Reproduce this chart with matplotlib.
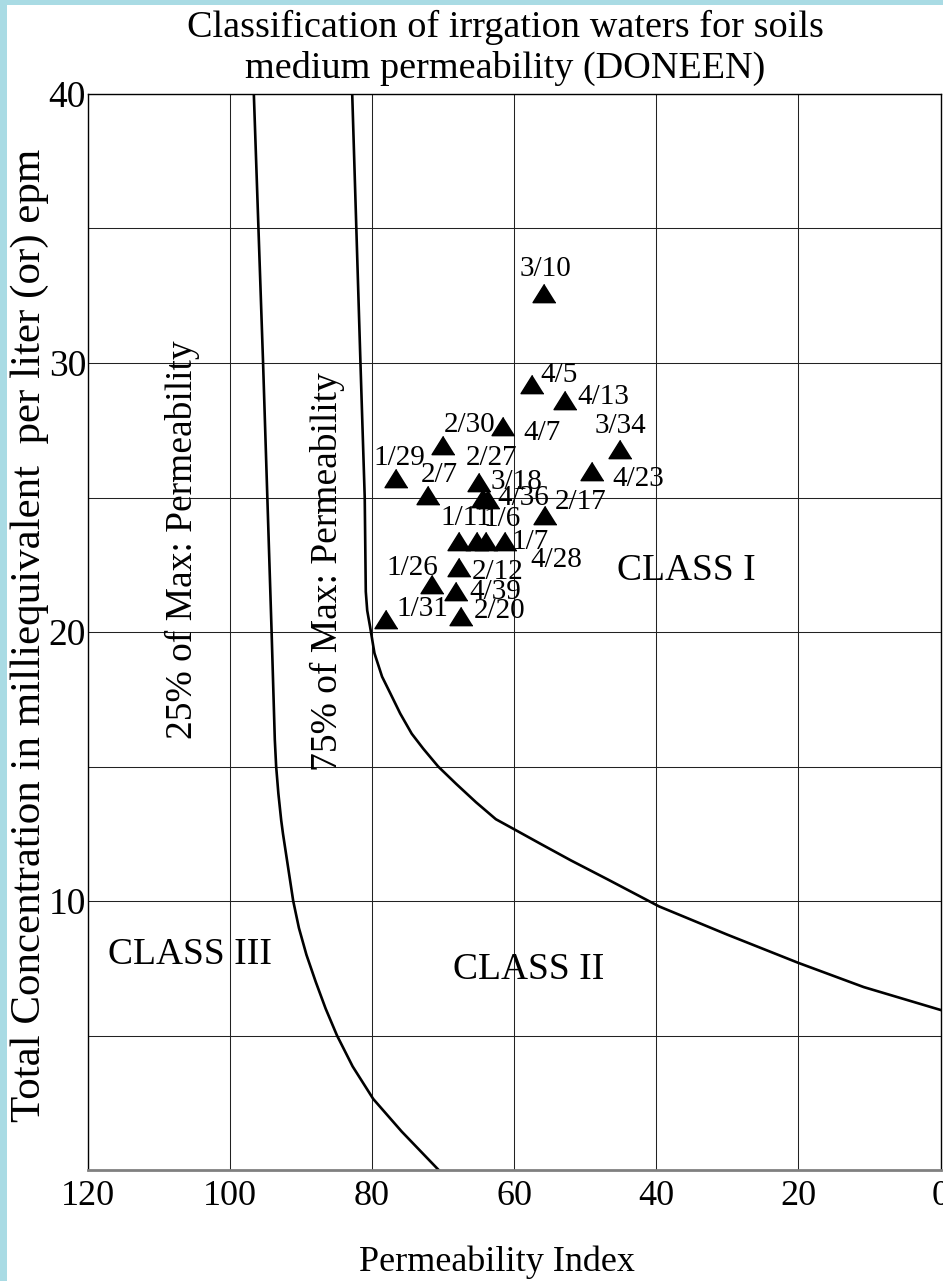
import matplotlib
matplotlib.use('Agg')
import matplotlib.pyplot as plt
from matplotlib.patches import Rectangle
from matplotlib.ticker import MultipleLocator

plt.rcParams['font.family'] = ['Liberation Serif', 'DejaVu Serif']

conc_25 = [40, 30, 20, 16, 15, 14, 13, 12.5, 10, 9, 8, 7, 6, 5, 3.85, 2.64, 1.43, 0]
pi_25 = [96.6, 95.3, 94.1, 93.65, 93.46, 93.15, 92.75, 92.5, 91.06, 90.26, 89.2, 87.9,
         86.5, 84.9, 82.7, 79.8, 75.8, 70.6]

conc_75 = [40, 30, 25, 21.5, 20.8, 20.2, 19.21, 18.34, 17.72, 16.97, 16.22, 15.66, 15.0,
           14.35, 13.67, 13.04, 12.67, 12.13, 11.51, 10.8, 9.8, 8.75, 7.7, 6.8, 5.95]
pi_75 = [82.76, 81.6, 81.0, 80.85, 80.65, 80.25, 79.63, 78.56, 77.40, 76.01, 74.39, 72.76,
         70.67, 68.12, 65.34, 62.55, 60.0, 56.3, 52.0, 46.8, 39.6, 30, 20, 10.8, 0]

# samples
labels = ['3/10', '4/5', '4/13', '4/7', '2/30', '3/34', '4/23', '1/29', '2/7', '2/27',
          '3/18', '4/36', '2/17', '1/11', '1/6', '4/28', '1/7', '2/12', '1/26', '4/39',
          '1/31', '2/20']
pi_values = [55.82, 57.49, 52.89, 61.53, 70.0, 45.13, 48.98, 76.65, 72.05, 64.94,
             64.32, 63.63, 55.63, 67.67, 65.26, 63.96, 61.31, 67.67, 71.58, 68.15,
             78.05, 67.45]
conc_values = [32.60, 29.23, 28.64, 27.65, 26.97, 26.82, 25.99, 25.71, 25.08, 25.58,
               24.97, 24.94, 24.35, 23.38, 23.38, 23.38, 23.38, 22.42, 21.77, 21.54,
               20.48, 20.59]

# where each label sits relative to its triangle (points)
label_offsets = [(1.4, 17.4), (19.9, 6.3), (27.6, 1.6), (28.3, -4.9), (19.2, 14.3),
                 (0.7, 16), (32.8, -5.5), (2.9, 14.8), (7.7, 14.8), (9.4, 17.1),
                 (23.8, 12), (25.2, 0.9), (25.9, 9.7), (4.8, 16.6), (18.5, 15.6),
                 (50.7, -13.4), (18, -0.7), (27.4, -4), (-13.7, 12), (28.1, -1.3),
                 (26.2, 7.1), (27.4, 3.4)]

W, H = 943, 1281
fig = plt.figure(figsize=(W / 100, H / 100), dpi=100, facecolor='#a9dbe4')
fig.patches.append(Rectangle((7.5 / W, 0), 1, 1 - 5 / H, transform=fig.transFigure,
                             facecolor='white', edgecolor='none', zorder=-1))

ax = fig.add_axes([87.5 / W, 1 - 1170 / H, 853 / W, 1076 / H])
ax.set_zorder(1)
ax.set_xlim(120, 0)
ax.set_ylim(0, 40)

ax.set_xticks([120, 100, 80, 60, 40, 20, 0])
ax.set_yticks([10, 20, 30, 40])
ax.yaxis.set_minor_locator(MultipleLocator(5))
ax.grid(which='both', color='#222222', linewidth=0.75)
ax.set_axisbelow(True)
ax.tick_params(which='both', length=0)
ax.tick_params(axis='x', pad=7, labelsize=26)
ax.tick_params(axis='y', pad=1, labelsize=27)
for side in ['left', 'top', 'right']:
    ax.spines[side].set_color('black')
    ax.spines[side].set_linewidth(1)
ax.spines['bottom'].set_color('#808080')
ax.spines['bottom'].set_linewidth(2)

ax.plot(pi_25, conc_25, color='black', lw=1.9, solid_joinstyle='round')
ax.plot(pi_75, conc_75, color='black', lw=1.9, solid_joinstyle='round')

tri = [(0, 0.8), (-1, -0.8), (1, -0.8)]
ax.plot(pi_values, conc_values, linestyle='none', marker=tri, markersize=16.5,
        color='black', zorder=4)
for lab, x, y, off in zip(labels, pi_values, conc_values, label_offsets):
    ax.annotate(lab, (x, y), xytext=off, textcoords='offset points',
                ha='center', va='center', fontsize=21, zorder=5)

ax.text(35.8, 22.27, 'CLASS I', fontsize=27, ha='center', va='center')
ax.text(58.0, 7.43, 'CLASS II', fontsize=27, ha='center', va='center')
ax.text(105.6, 7.99, 'CLASS III', fontsize=27, ha='center', va='center')
ax.text(106.7, 23.42, '25% of Max: Permeability', fontsize=27, rotation=90,
        ha='center', va='center')
ax.text(86.3, 22.23, '75% of Max: Permeability', fontsize=27, rotation=90,
        ha='center', va='center')

fig.text(505 / W, 1 - 48 / H,
         'Classification of irrgation waters for soils\nmedium permeability (DONEEN)',
         ha='center', va='center', fontsize=27.5, linespacing=1.2)
fig.text(497 / W, 1 - 1262 / H, 'Permeability Index', ha='center', va='center',
         fontsize=26)
fig.text(30 / W, 1 - 635 / H, 'Total Concentration in milliequivalent  per liter (or) epm',
         ha='center', va='center', rotation=90, fontsize=31)

fig.savefig('out.png', dpi=100, facecolor=fig.get_facecolor())
